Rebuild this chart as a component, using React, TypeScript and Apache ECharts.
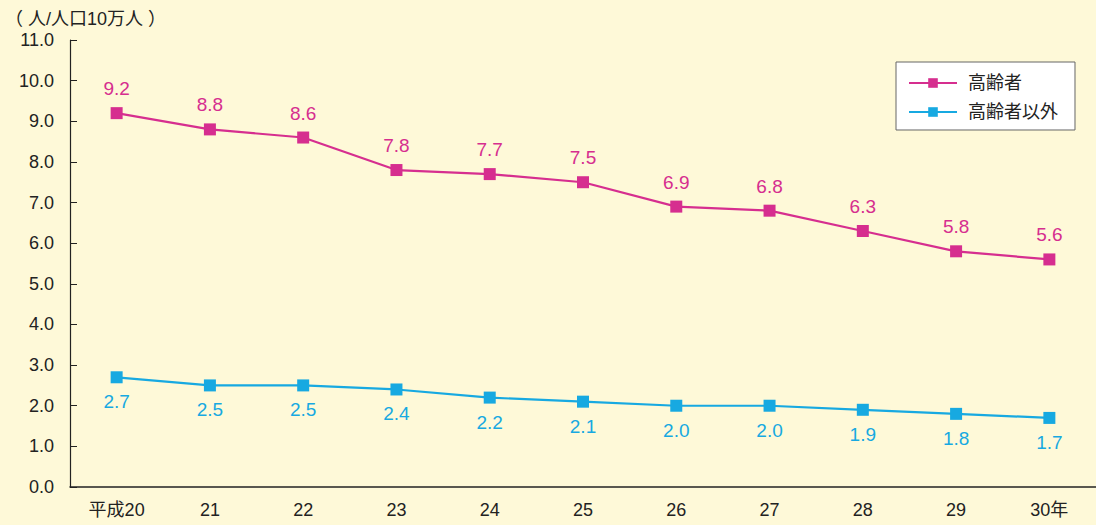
import React, { useEffect, useRef } from "react";
import * as echarts from "echarts";

const categories = ["平成20", "21", "22", "23", "24", "25", "26", "27", "28", "29", "30年"];
const elderly = [9.2, 8.8, 8.6, 7.8, 7.7, 7.5, 6.9, 6.8, 6.3, 5.8, 5.6];
const nonElderly = [2.7, 2.5, 2.5, 2.4, 2.2, 2.1, 2.0, 2.0, 1.9, 1.8, 1.7];
const seriesNames = ["高齢者", "高齢者以外"];
const unitLabel = "（ 人/人口10万人 ）";

const FONT = "'Liberation Sans', Arial, 'Noto Sans CJK JP', sans-serif";
const MAGENTA = "#D62E8F";
const CYAN = "#17A9E1";

export default function App() {
  const ref = useRef<HTMLDivElement>(null);
  useEffect(() => {
    if (!ref.current) return;
    const chart = echarts.init(ref.current, null, { renderer: "svg" });
    chart.setOption({
      animation: false,
      backgroundColor: "#FEF9D8",
      textStyle: { fontFamily: FONT },
      title: {
        text: unitLabel,
        left: 0,
        top: 5,
        textStyle: { fontSize: 18, fontWeight: "normal", color: "#222", fontFamily: FONT },
      },
      grid: { left: 70, right: -4, top: 40, bottom: 38, containLabel: false },
      legend: {
        orient: "vertical",
        right: 21,
        top: 62,
        backgroundColor: "#ffffff",
        borderColor: "#666",
        borderWidth: 1,
        borderRadius: 0,
        padding: [12, 17, 9, 12],
        itemGap: 11,
        itemWidth: 48,
        itemHeight: 12,
        textStyle: { fontSize: 18, color: "#222", fontFamily: FONT, padding: [0, 0, 0, 6] },
        data: seriesNames,
      },
      xAxis: {
        type: "category",
        data: categories,
        boundaryGap: true,
        axisLine: { lineStyle: { color: "#222", width: 1.5 } },
        axisTick: { inside: true, length: 7, alignWithLabel: false, lineStyle: { color: "#222" } },
        axisLabel: { fontSize: 18, color: "#222", margin: 14, fontFamily: FONT },
      },
      yAxis: {
        type: "value",
        min: 0,
        max: 11,
        interval: 1,
        axisLine: { show: true, lineStyle: { color: "#222", width: 1.2 } },
        axisTick: { show: true, inside: true, length: 7, lineStyle: { color: "#222" } },
        splitLine: { show: false },
        axisLabel: {
          fontSize: 18,
          color: "#222",
          margin: 16,
          fontFamily: FONT,
          formatter: (v: number) => v.toFixed(1),
        },
      },
      series: [
        {
          name: seriesNames[0],
          type: "line",
          data: elderly,
          symbol: "rect",
          symbolSize: 12,
          color: MAGENTA,
          lineStyle: { color: MAGENTA, width: 2.2 },
          itemStyle: { color: MAGENTA },
          label: {
            show: true,
            position: "top",
            distance: 9,
            fontSize: 19,
            color: MAGENTA,
            fontFamily: FONT,
            formatter: (p: any) => Number(p.value).toFixed(1),
          },
        },
        {
          name: seriesNames[1],
          type: "line",
          data: nonElderly,
          symbol: "rect",
          symbolSize: 12,
          color: CYAN,
          lineStyle: { color: CYAN, width: 2.2 },
          itemStyle: { color: CYAN },
          label: {
            show: true,
            position: "bottom",
            distance: 9,
            fontSize: 19,
            color: CYAN,
            fontFamily: FONT,
            formatter: (p: any) => Number(p.value).toFixed(1),
          },
        },
      ],
    });
    return () => chart.dispose();
  }, []);
  return <div ref={ref} style={{ width: 1096, height: 525, position: "fixed", left: 0, top: 0 }} />;
}
